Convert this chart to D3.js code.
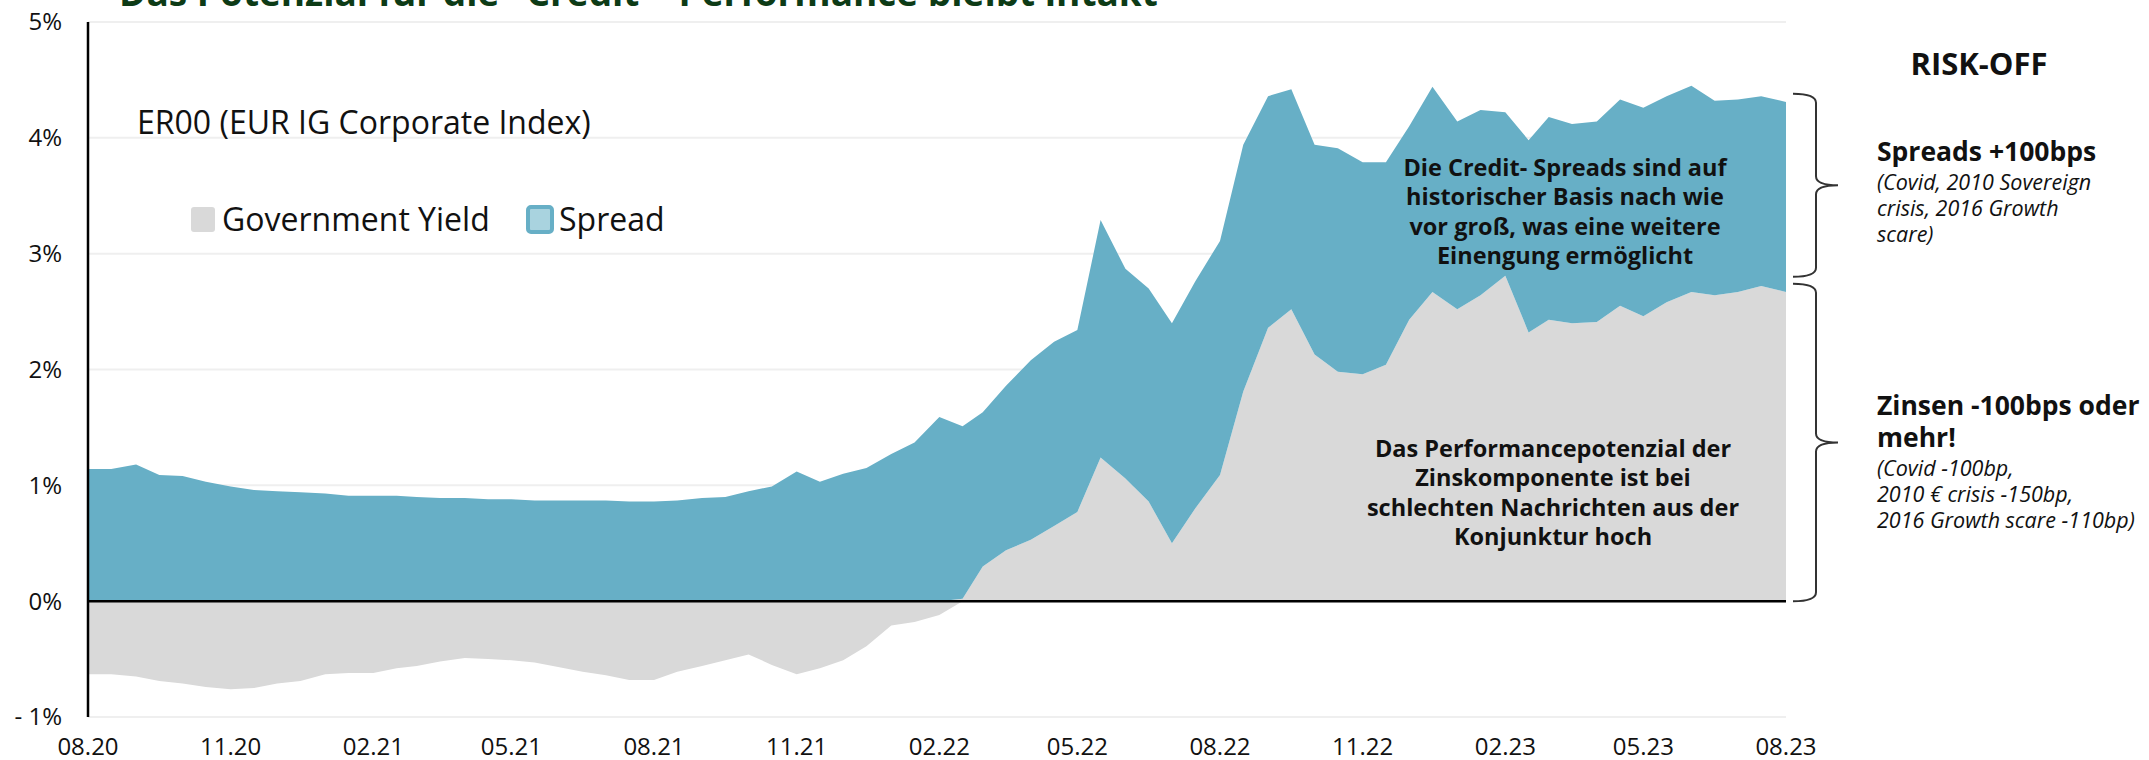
<!DOCTYPE html>
<html>
<head>
<meta charset="utf-8">
<script src="https://cdn.jsdelivr.net/npm/d3@7"></script>
<style>
  body { margin: 0; background: #fff; }
  svg { display: block; font-family: 'Open Sans', sans-serif; }
</style>
</head>
<body>
<div id="chart"></div>
<script>
// semi-monthly readings, Aug 2020 - Aug 2023
let dates = [
  '2020-08-01', '2020-08-16', '2020-09-01', '2020-09-16', '2020-10-01', '2020-10-16',
  '2020-11-01', '2020-11-16', '2020-12-01', '2020-12-16', '2021-01-01', '2021-01-16',
  '2021-02-01', '2021-02-16', '2021-03-01', '2021-03-16', '2021-04-01', '2021-04-16',
  '2021-05-01', '2021-05-16', '2021-06-01', '2021-06-16', '2021-07-01', '2021-07-16',
  '2021-08-01', '2021-08-16', '2021-09-01', '2021-09-16', '2021-10-01', '2021-10-16',
  '2021-11-01', '2021-11-16', '2021-12-01', '2021-12-16', '2022-01-01', '2022-01-16',
  '2022-02-01', '2022-02-16', '2022-03-01', '2022-03-16', '2022-04-01', '2022-04-16',
  '2022-05-01', '2022-05-16', '2022-06-01', '2022-06-16', '2022-07-01', '2022-07-16',
  '2022-08-01', '2022-08-16', '2022-09-01', '2022-09-16', '2022-10-01', '2022-10-16',
  '2022-11-01', '2022-11-16', '2022-12-01', '2022-12-16', '2023-01-01', '2023-01-16',
  '2023-02-01', '2023-02-16', '2023-03-01', '2023-03-16', '2023-04-01', '2023-04-16',
  '2023-05-01', '2023-05-16', '2023-06-01', '2023-06-16', '2023-07-01', '2023-07-16',
  '2023-08-01'
]

let govYield = [
  -0.63, -0.63, -0.65, -0.69, -0.71, -0.74, -0.76, -0.75, -0.71, -0.69, -0.63, -0.62,
  -0.62, -0.58, -0.56, -0.52, -0.49, -0.50, -0.51, -0.53, -0.57, -0.61, -0.64, -0.68,
  -0.68, -0.61, -0.56, -0.51, -0.46, -0.55, -0.63, -0.58, -0.51, -0.39, -0.21, -0.18,
  -0.12, 0.02, 0.30, 0.44, 0.53, 0.65, 0.77, 1.24, 1.06, 0.86, 0.50, 0.80,
  1.09, 1.81, 2.36, 2.52, 2.13, 1.98, 1.96, 2.04, 2.43, 2.67, 2.52, 2.64,
  2.81, 2.32, 2.43, 2.40, 2.41, 2.55, 2.46, 2.58, 2.67, 2.64, 2.67, 2.72,
  2.67
]

let spread = [
  1.14, 1.14, 1.18, 1.09, 1.08, 1.03, 0.99, 0.96, 0.95, 0.94, 0.93, 0.91,
  0.91, 0.91, 0.90, 0.89, 0.89, 0.88, 0.88, 0.87, 0.87, 0.87, 0.87, 0.86,
  0.86, 0.87, 0.89, 0.90, 0.95, 0.99, 1.12, 1.03, 1.10, 1.15, 1.27, 1.37,
  1.59, 1.49, 1.33, 1.42, 1.55, 1.59, 1.57, 2.05, 1.81, 1.84, 1.90, 1.96,
  2.02, 2.13, 2.00, 1.90, 1.81, 1.93, 1.83, 1.75, 1.67, 1.77, 1.62, 1.60,
  1.41, 1.66, 1.75, 1.72, 1.73, 1.78, 1.80, 1.78, 1.78, 1.68, 1.66, 1.64,
  1.64
]

let seriesNames = ['Government Yield', 'Spread']
let yTicks = [-1, 0, 1, 2, 3, 4, 5]
let yTickLabels = ['- 1%', '0%', '1%', '2%', '3%', '4%', '5%']
let xTickLabels = ['08.20', '11.20', '02.21', '05.21', '08.21', '11.21', '02.22',
  '05.22', '08.22', '11.22', '02.23', '05.23', '08.23']

let spreadNote = ['Die Credit- Spreads sind auf', 'historischer Basis nach wie',
  'vor groß, was eine weitere', 'Einengung ermöglicht']
let rateNote = ['Das Performancepotenzial der', 'Zinskomponente ist bei',
  'schlechten Nachrichten aus der', 'Konjunktur hoch']
// brace ranges in % (upper: spreads, lower: rates)
let braceSpread = [2.8, 4.38]
let braceRates = [0, 2.74]

let width = 2149
let height = 760
let margin = { top: 22, left: 88, right: 363, bottom: 43 }

let svg = d3
  .select('#chart')
  .append('svg')
  .attr('width', width)
  .attr('height', height)

let parseDate = d3.timeParse('%Y-%m-%d')
let parseTick = d3.timeParse('%m.%y')

let table = dates.map((d, i) => ({
  date: parseDate(d),
  gov: govYield[i],
  spread: spread[i]
}))

let xPositionScale = d3
  .scaleTime()
  .domain([parseTick('08.20'), parseTick('08.23')])
  .range([margin.left, width - margin.right])

let yPositionScale = d3
  .scaleLinear()
  .domain([-1, 5])
  .range([height - margin.bottom, margin.top])

let colorScale = d3.scaleOrdinal().domain(['gov', 'spread']).range(['#d9d9d9', '#67afc6'])

// title (cut off at the top in the original)
svg
  .append('text')
  .text('Das Potenzial für die "Credit"- Performance bleibt intakt')
  .attr('x', 119)
  .attr('y', 6)
  .attr('font-size', 37)
  .attr('font-weight', 'bold')
  .attr('fill', '#0d3b16')

// gridlines
svg
  .selectAll('.grid')
  .data(yTicks)
  .enter()
  .append('line')
  .attr('class', 'grid')
  .attr('x1', margin.left)
  .attr('x2', width - margin.right)
  .attr('y1', d => yPositionScale(d))
  .attr('y2', d => yPositionScale(d))
  .attr('stroke', '#efefef')
  .attr('stroke-width', 2)

let stack = d3
  .stack()
  .keys(['gov', 'spread'])
  .offset(d3.stackOffsetDiverging)

let area = d3
  .area()
  .x(d => xPositionScale(d.data.date))
  .y0(d => yPositionScale(d[0]))
  .y1(d => yPositionScale(d[1]))

svg
  .selectAll('.layer')
  .data(stack(table))
  .enter()
  .append('path')
  .attr('class', 'layer')
  .attr('d', area)
  .attr('fill', d => colorScale(d.key))

// axes lines
svg
  .append('line')
  .attr('x1', margin.left)
  .attr('x2', margin.left)
  .attr('y1', yPositionScale(5))
  .attr('y2', yPositionScale(-1))
  .attr('stroke', '#000')
  .attr('stroke-width', 2.5)

svg
  .append('line')
  .attr('x1', margin.left)
  .attr('x2', width - margin.right)
  .attr('y1', yPositionScale(0))
  .attr('y2', yPositionScale(0))
  .attr('stroke', '#000')
  .attr('stroke-width', 2.5)

// y labels
svg
  .selectAll('.ylabel')
  .data(yTicks)
  .enter()
  .append('text')
  .attr('class', 'ylabel')
  .text((d, i) => yTickLabels[i])
  .attr('x', 62)
  .attr('y', d => yPositionScale(d))
  .attr('dy', '0.35em')
  .attr('text-anchor', 'end')
  .attr('font-size', 24)
  .attr('fill', '#111')

// x labels
svg
  .selectAll('.xlabel')
  .data(xTickLabels)
  .enter()
  .append('text')
  .attr('class', 'xlabel')
  .text(d => d)
  .attr('x', d => xPositionScale(parseTick(d)))
  .attr('y', 755)
  .attr('text-anchor', 'middle')
  .attr('font-size', 24)
  .attr('fill', '#111')

// legend
svg
  .append('text')
  .text('ER00 (EUR IG Corporate Index)')
  .attr('x', 137)
  .attr('y', 134)
  .attr('font-size', 32)
  .attr('fill', '#111')

let legendX = [191, 528]
let legend = svg
  .selectAll('.legend')
  .data(['gov', 'spread'])
  .enter()
  .append('g')
  .attr('class', 'legend')
  .attr('transform', (d, i) => `translate(${legendX[i]},207)`)

legend
  .append('rect')
  .attr('width', 24)
  .attr('height', 25)
  .attr('rx', 3)
  .attr('fill', d => (d === 'gov' ? colorScale(d) : '#a9d3df'))
  .attr('stroke', d => (d === 'gov' ? 'none' : colorScale(d)))
  .attr('stroke-width', 4)

legend
  .append('text')
  .text((d, i) => seriesNames[i])
  .attr('x', 31)
  .attr('y', 24)
  .attr('font-size', 32)
  .attr('fill', '#111')

// notes inside the chart
function note(lines, cx, y0) {
  svg
    .append('g')
    .selectAll('text')
    .data(lines)
    .enter()
    .append('text')
    .text(d => d)
    .attr('x', cx)
    .attr('y', (d, i) => y0 + i * 29.3)
    .attr('text-anchor', 'middle')
    .attr('font-size', 23.5)
    .attr('font-weight', 'bold')
    .attr('fill', '#111')
}
note(spreadNote, 1565, 176)
note(rateNote, 1553, 457)

// braces on the right
function brace(range) {
  let x0 = width - margin.right + 7
  let xm = x0 + 23
  let xt = x0 + 45
  let yA = yPositionScale(range[1])
  let yB = yPositionScale(range[0])
  let ym = (yA + yB) / 2
  let r = 9
  return `M${x0},${yA} Q${xm},${yA} ${xm},${yA + r} L${xm},${ym - r} Q${xm},${ym} ${xt},${ym}` +
    ` Q${xm},${ym} ${xm},${ym + r} L${xm},${yB - r} Q${xm},${yB} ${x0},${yB}`
}

svg
  .selectAll('.brace')
  .data([braceSpread, braceRates])
  .enter()
  .append('path')
  .attr('class', 'brace')
  .attr('d', brace)
  .attr('fill', 'none')
  .attr('stroke', '#333')
  .attr('stroke-width', 2)

svg
  .append('text')
  .text('RISK-OFF')
  .attr('x', 1979)
  .attr('y', 75)
  .attr('text-anchor', 'middle')
  .attr('font-size', 31)
  .attr('font-weight', 'bold')
  .attr('fill', '#111')

let sideX = 1877
let sideText = [
  { t: 'Spreads +100bps', y: 161, bold: true },
  { t: '(Covid, 2010 Sovereign', y: 190 },
  { t: 'crisis, 2016 Growth', y: 216 },
  { t: 'scare)', y: 242 },
  { t: 'Zinsen -100bps oder', y: 415, bold: true },
  { t: 'mehr!', y: 447, bold: true },
  { t: '(Covid -100bp,', y: 476 },
  { t: '2010 € crisis -150bp,', y: 502 },
  { t: '2016 Growth scare -110bp)', y: 528 }
]

svg
  .selectAll('.side')
  .data(sideText)
  .enter()
  .append('text')
  .attr('class', 'side')
  .text(d => d.t)
  .attr('x', sideX)
  .attr('y', d => d.y)
  .attr('font-size', d => (d.bold ? 26.5 : 21.5))
  .attr('font-weight', d => (d.bold ? 'bold' : 'normal'))
  .attr('font-style', d => (d.bold ? 'normal' : 'italic'))
  .attr('fill', '#111')
</script>
</body>
</html>
